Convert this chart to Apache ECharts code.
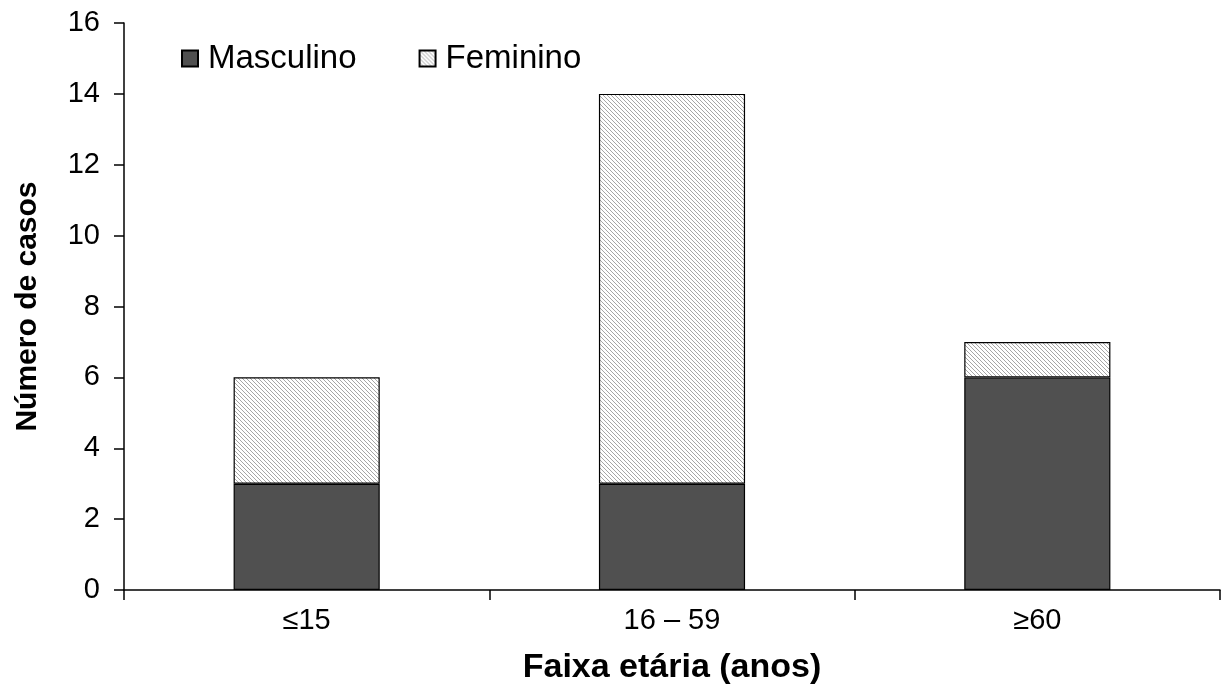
<!DOCTYPE html>
<html>
<head>
<meta charset="utf-8">
<script src="https://cdn.jsdelivr.net/npm/echarts@6/dist/echarts.min.js"></script>
<style>
  html, body { margin: 0; padding: 0; background: #fff; }
  #chart { width: 1223px; height: 691px; }
</style>
</head>
<body>
<div id="chart"></div>
<script>
// dados
var faixas = ["≤15", "16 – 59", "≥60"];
var masculino = [3, 3, 6];
var feminino = [3, 11, 1];
var ticksY = [0, 2, 4, 6, 8, 10, 12, 14, 16];

// padrão hachurado (linhas diagonais finas)
function hachura() {
  var c = document.createElement("canvas");
  c.width = 4; c.height = 4;
  var ctx = c.getContext("2d");
  ctx.fillStyle = "#ffffff";
  ctx.fillRect(0, 0, 4, 4);
  ctx.fillStyle = "#a6a6a6";
  for (var i = 0; i < 4; i++) {
    ctx.fillRect(i, i, 1, 1);
  }
  return c;
}

var chartObj = echarts.init(document.getElementById("chart"));
var fonte = "Liberation Sans, Arial, sans-serif";

var option = {
  animation: false,
  backgroundColor: "#fff",
  grid: { left: 124, right: 3, top: 23, bottom: 101, containLabel: false },
  legend: {
    left: 181, top: 42, padding: 0,
    itemWidth: 16, itemHeight: 16, itemGap: 62,
    icon: "rect",
    textStyle: { fontFamily: fonte, fontSize: 33, color: "#000", padding: [0, 0, 0, 5] },
    data: ["Masculino", "Feminino"]
  },
  xAxis: {
    type: "category",
    data: faixas,
    name: "Faixa etária (anos)",
    nameLocation: "middle",
    nameGap: 61,
    nameTextStyle: { fontFamily: fonte, fontSize: 34, fontWeight: "bold", color: "#000" },
    axisLine: { lineStyle: { color: "#000", width: 1.5 } },
    axisTick: { show: true, length: 10, inside: false, lineStyle: { color: "#000", width: 1.5 } },
    axisLabel: { fontFamily: fonte, fontSize: 29, color: "#000", margin: 16 }
  },
  yAxis: {
    type: "value",
    min: 0, max: 16, interval: 2,
    name: "Número de casos",
    nameLocation: "middle",
    nameGap: 81,
    nameTextStyle: { fontFamily: fonte, fontSize: 30, fontWeight: "bold", color: "#000" },
    splitLine: { show: false },
    axisLine: { show: true, lineStyle: { color: "#000", width: 1.5 } },
    axisTick: { show: true, length: 10, lineStyle: { color: "#000", width: 1.5 } },
    axisLabel: { fontFamily: fonte, fontSize: 29, color: "#000", margin: 24,
      formatter: function (v) { return ticksY.indexOf(v) >= 0 ? String(v) : ""; } }
  },
  series: [
    {
      name: "Masculino",
      type: "bar",
      stack: "total",
      barWidth: "40%",
      data: masculino,
      itemStyle: { color: "#505050", borderColor: "#000", borderWidth: 1.2 }
    },
    {
      name: "Feminino",
      type: "bar",
      stack: "total",
      barWidth: "40%",
      data: feminino,
      itemStyle: { color: { image: hachura(), repeat: "repeat" }, borderColor: "#000", borderWidth: 1.2 }
    }
  ]
};

chartObj.setOption(option, true);
window.addEventListener("resize", function () { chartObj.resize(); });
</script>
</body>
</html>
